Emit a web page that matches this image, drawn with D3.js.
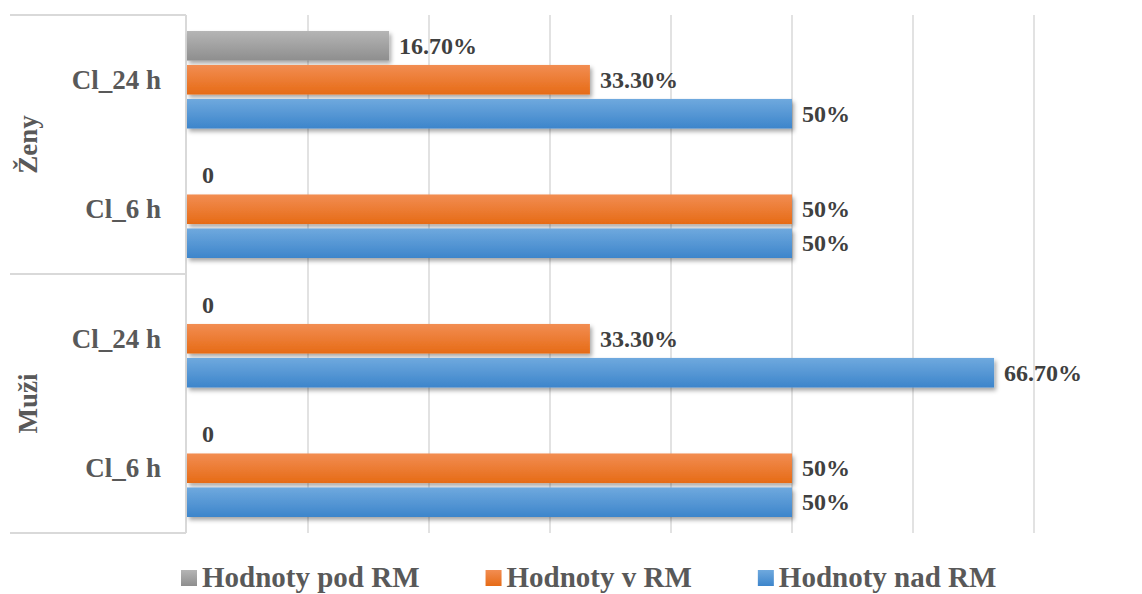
<!DOCTYPE html>
<html>
<head>
<meta charset="utf-8">
<script src="https://cdn.jsdelivr.net/npm/d3@7"></script>
<style>
  html, body { margin: 0; padding: 0; background: #ffffff; }
  svg { display: block; font-family: "Liberation Serif", "Times New Roman", serif; font-weight: bold; }
</style>
</head>
<body>
<script>
// Category axis: two levels (group, sampling time), listed bottom to top
const groupNames = ["Muži", "Ženy"];
const categoryGroups = ["Muži", "Muži", "Ženy", "Ženy"];
const categoryLabels = ["Cl_6 h", "Cl_24 h", "Cl_6 h", "Cl_24 h"];

// Series values (share of samples)
const seriesNames = ["Hodnoty pod RM", "Hodnoty v RM", "Hodnoty nad RM"];
const podRM = [0, 0, 0, 0.167];
const vRM   = [0.5, 0.333, 0.5, 0.333];
const nadRM = [0.5, 0.667, 0.5, 0.5];

// Data labels as printed next to each bar
const podLabels = ["0", "0", "0", "16.70%"];
const vLabels   = ["50%", "33.30%", "50%", "33.30%"];
const nadLabels = ["50%", "66.70%", "50%", "50%"];

// Value axis gridlines
const gridTicks = [0, 0.1, 0.2, 0.3, 0.4, 0.5, 0.6, 0.7];

const W = 1142, H = 594;
const plot = { left: 187, right: 1034, top: 15, bottom: 533 };

const seriesValues = [podRM, vRM, nadRM];
const seriesLabels = [podLabels, vLabels, nadLabels];
const gradStops = [
  ["#b5b5b5", "#8e8e8e"],
  ["#f28d52", "#e66b16"],
  ["#6fa9de", "#3d85cb"]
];

const svg = d3.select("body").append("svg")
  .attr("width", W).attr("height", H);

const defs = svg.append("defs");
gradStops.forEach((c, i) => {
  const g = defs.append("linearGradient")
    .attr("id", "grad" + i)
    .attr("x1", 0).attr("y1", 0).attr("x2", 0).attr("y2", 1);
  g.append("stop").attr("offset", "0%").attr("stop-color", c[0]);
  g.append("stop").attr("offset", "100%").attr("stop-color", c[1]);
});
const shadow = defs.append("filter").attr("id", "shadow")
  .attr("x", "-5%").attr("y", "-30%").attr("width", "115%").attr("height", "190%");
shadow.append("feDropShadow")
  .attr("dx", 2).attr("dy", 3).attr("stdDeviation", 2)
  .attr("flood-color", "#000").attr("flood-opacity", 0.35);

const x = d3.scaleLinear().domain([0, 0.7]).range([plot.left, plot.right]);

const idx = d3.range(categoryLabels.length);
const y = d3.scaleBand().domain(idx).range([plot.bottom, plot.top]);
const inner = d3.scaleBand().domain(d3.range(seriesNames.length))
  .range([16, y.bandwidth() - 16]).paddingInner(0.13);

// Vertical gridlines
svg.append("g").selectAll("line").data(gridTicks.slice(1)).join("line")
  .attr("x1", d => x(d)).attr("x2", d => x(d))
  .attr("y1", plot.top).attr("y2", plot.bottom)
  .attr("stroke", "#d9d9d9").attr("stroke-width", 1.5);

// Category axis frame: axis line and group separators
const axisG = svg.append("g").attr("stroke", "#d9d9d9").attr("stroke-width", 2);
axisG.append("line")
  .attr("x1", plot.left - 1).attr("x2", plot.left - 1)
  .attr("y1", plot.top).attr("y2", plot.bottom);
const groupEdges = [plot.bottom, plot.top];
groupNames.forEach((g, gi) => {
  const members = idx.filter(i => categoryGroups[i] === g);
  groupEdges.push(y(d3.min(members)) + y.bandwidth());
});
axisG.selectAll("line.sep").data(Array.from(new Set(groupEdges))).join("line")
  .attr("class", "sep")
  .attr("x1", 10).attr("x2", plot.left - 1)
  .attr("y1", d => d).attr("y2", d => d);

// Bars
const barsG = svg.append("g");
seriesValues.forEach((vals, s) => {
  barsG.append("g").selectAll("rect").data(idx.filter(i => vals[i] > 0)).join("rect")
    .attr("x", x(0))
    .attr("y", i => y(i) + inner(s))
    .attr("width", i => x(vals[i]) - x(0))
    .attr("height", inner.bandwidth())
    .attr("fill", "url(#grad" + s + ")")
    .attr("filter", "url(#shadow)");
});

// Data labels
const labG = svg.append("g").attr("font-size", 24).attr("fill", "#404040");
seriesValues.forEach((vals, s) => {
  labG.append("g").selectAll("text").data(idx).join("text")
    .attr("x", i => x(vals[i]) + (vals[i] > 0 ? 10 : 15))
    .attr("y", i => y(i) + inner(s) + inner.bandwidth() / 2)
    .attr("dy", "0.33em")
    .text(i => seriesLabels[s][i]);
});

// Category labels
svg.append("g").attr("font-size", 27).attr("fill", "#595959").attr("text-anchor", "end")
  .selectAll("text").data(idx).join("text")
  .attr("x", 161)
  .attr("y", i => y(i) + y.bandwidth() / 2)
  .attr("dy", "0.33em")
  .text(i => categoryLabels[i]);

// Group labels (rotated)
svg.append("g").attr("font-size", 27).attr("fill", "#595959").attr("text-anchor", "middle")
  .selectAll("text").data(groupNames).join("text")
  .attr("transform", g => {
    const members = idx.filter(i => categoryGroups[i] === g);
    const cy = (y(d3.min(members)) + y.bandwidth() + y(d3.max(members))) / 2;
    return `translate(37,${cy}) rotate(-90)`;
  })
  .text(g => g);

// Legend
const legend = svg.append("g").attr("font-size", 29).attr("fill", "#595959");
let lx = 181;
seriesNames.forEach((name, s) => {
  const item = legend.append("g").attr("transform", `translate(${lx},0)`);
  item.append("rect").attr("x", 0).attr("y", 570).attr("width", 16).attr("height", 16)
    .attr("fill", "url(#grad" + s + ")");
  const t = item.append("text").attr("x", 21).attr("y", 587).text(name);
  lx += 21 + t.node().getComputedTextLength() + 66;
});
</script>
</body>
</html>
